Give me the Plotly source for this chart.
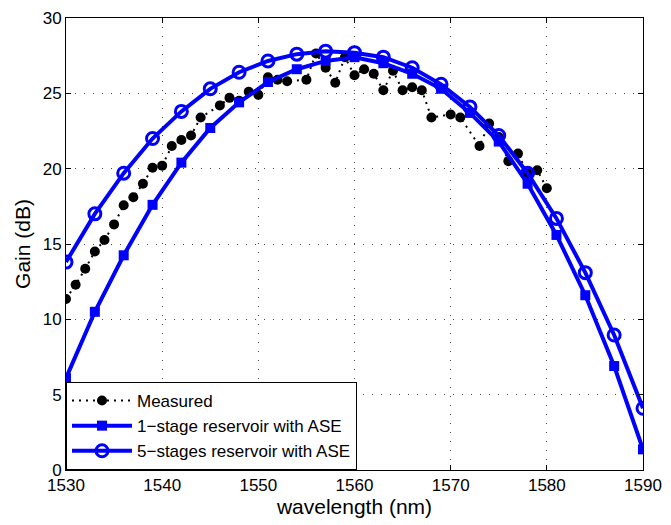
import plotly.graph_objects as go

# Measured gain
meas_x = [1530, 1531, 1532, 1533, 1534, 1535, 1536, 1537, 1538, 1539, 1540, 1541, 1542, 1543, 1544,
          1546, 1547, 1548, 1549, 1550, 1551, 1552, 1553, 1555, 1556, 1557, 1558, 1559, 1560, 1561,
          1562, 1563, 1564, 1565, 1566, 1567, 1568, 1570, 1571, 1573, 1574, 1575, 1576, 1577, 1578,
          1579, 1580]
meas_y = [11.35, 12.3, 13.36, 14.5, 15.27, 16.3, 17.57, 18.1, 19.0, 20.06, 20.2, 21.5, 21.9, 22.2, 23.4,
          24.2, 24.7, 24.5, 25.1, 24.9, 26.07, 25.9, 25.8, 25.9, 27.65, 26.7, 25.7, 27.4, 26.2, 26.6,
          26.3, 25.2, 26.5, 25.2, 25.4, 25.2, 23.4, 23.6, 23.4, 21.5, 23.0, 22.1, 20.5, 21.0, 19.7,
          19.9, 18.7]

# Model wavelengths (every 3 nm)
model_x = [1530, 1533, 1536, 1539, 1542, 1545, 1548, 1551, 1554, 1557, 1560, 1563, 1566, 1569,
           1572, 1575, 1578, 1581, 1584, 1587, 1590]
stage1_y = [6.1, 10.5, 14.25, 17.6, 20.4, 22.7, 24.4, 25.75, 26.6, 27.15, 27.4, 27.0, 26.3, 25.3,
            23.7, 21.8, 19.0, 15.6, 11.6, 6.9, 1.37]
stage5_y = [13.8, 17.0, 19.7, 22.0, 23.8, 25.3, 26.4, 27.15, 27.6, 27.8, 27.7, 27.4, 26.7, 25.6,
            24.1, 22.2, 19.7, 16.7, 13.1, 8.96, 4.1]

x_ticks = [1530, 1540, 1550, 1560, 1570, 1580, 1590]
y_ticks = [0, 5, 10, 15, 20, 25, 30]

BLUE = "#0000ff"
FONT = "Liberation Sans, Arial, sans-serif"

fig = go.Figure()
fig.add_trace(go.Scatter(
    x=meas_x, y=meas_y, name="Measured", mode="lines+markers",
    line=dict(color="black", width=2, dash="2px,5px"),
    marker=dict(symbol="circle", size=10, color="black"),
))
fig.add_trace(go.Scatter(
    x=model_x, y=stage1_y, name="1\u2212stage reservoir with ASE", mode="lines+markers",
    line=dict(color=BLUE, width=4),
    marker=dict(symbol="square", size=10, color=BLUE),
))
fig.add_trace(go.Scatter(
    x=model_x, y=stage5_y, name="5\u2212stages reservoir with ASE", mode="lines+markers",
    line=dict(color=BLUE, width=4),
    marker=dict(symbol="circle-open", size=12, color=BLUE, line=dict(width=3, color=BLUE)),
))

axis_common = dict(
    showline=True, linecolor="black", linewidth=1, mirror="ticks",
    ticks="inside", ticklen=5, tickcolor="black",
    showgrid=True, gridcolor="#444444", gridwidth=1, griddash="1px,8px",
    zeroline=False, tickfont=dict(size=17, color="black", family=FONT),
)

fig.update_xaxes(range=[1530, 1590], tickvals=x_ticks,
                 title=dict(text="wavelength (nm)", font=dict(size=21, color="black", family=FONT), standoff=0),
                 **axis_common)
fig.update_yaxes(range=[0, 30], tickvals=y_ticks,
                 title=dict(text="Gain (dB)", font=dict(size=21, color="black", family=FONT), standoff=6),
                 **axis_common)

fig.update_layout(
    width=671, height=525,
    margin=dict(l=66, r=21, t=9, b=55),
    paper_bgcolor="white", plot_bgcolor="white",
    font=dict(family=FONT, color="black"),
    legend=dict(x=0, y=0, xanchor="left", yanchor="bottom",
                bgcolor="white", bordercolor="black", borderwidth=1,
                font=dict(size=17, color="black", family=FONT),
                itemwidth=60, tracegroupgap=0),
    showlegend=True,
)

fig.write_html("out.html")
